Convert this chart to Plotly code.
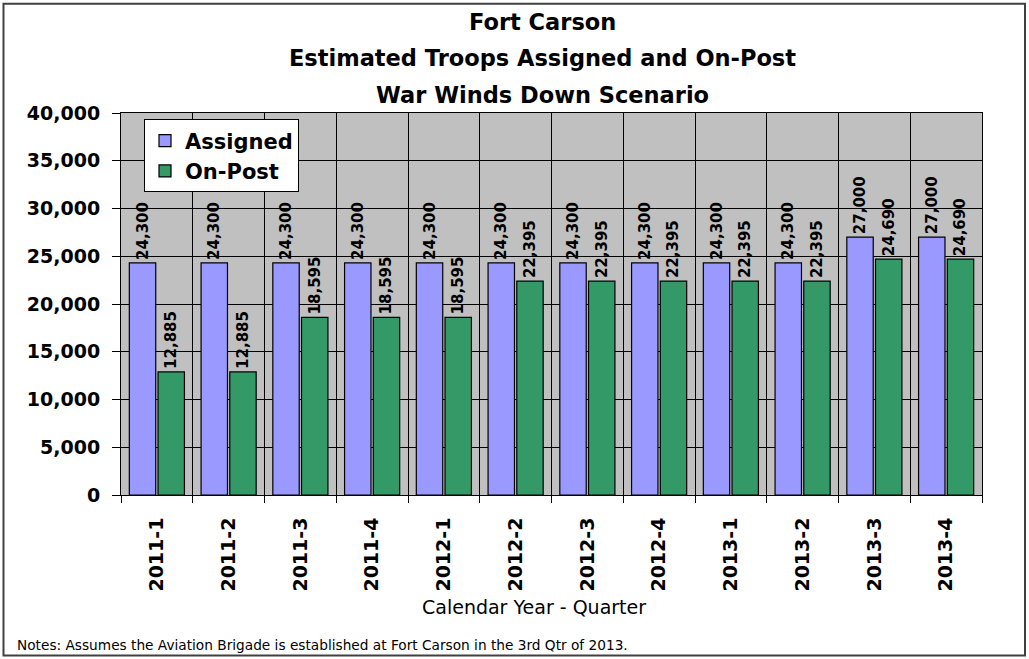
import plotly.graph_objects as go

quarters = ["2011-1", "2011-2", "2011-3", "2011-4", "2012-1", "2012-2",
            "2012-3", "2012-4", "2013-1", "2013-2", "2013-3", "2013-4"]
assigned = [24300, 24300, 24300, 24300, 24300, 24300,
            24300, 24300, 24300, 24300, 27000, 27000]
on_post = [12885, 12885, 18595, 18595, 18595, 22395,
           22395, 22395, 22395, 22395, 24690, 24690]

FONT = "DejaVu Sans, Verdana, sans-serif"
W, H = 1029, 659
L, R, T, B = 121, 982, 112.5, 495.5

def px_x(px):
    return (px - L) / (R - L)

def px_y(py):
    return (B - py) / (B - T)

def fmt(v):
    return f"{v:,}"

label_font = dict(family=FONT, size=15, color="black", weight="bold")

fig = go.Figure()
fig.add_trace(go.Bar(
    x=quarters, y=assigned, name="Assigned",
    marker=dict(color="#9999FF", line=dict(color="black", width=1.2)),
    text=[fmt(v) for v in assigned], textposition="outside", textangle=-90,
    textfont=label_font, constraintext="none", cliponaxis=False,
))
fig.add_trace(go.Bar(
    x=quarters, y=on_post, name="On-Post",
    marker=dict(color="#339966", line=dict(color="black", width=1.2)),
    text=[fmt(v) for v in on_post], textposition="outside", textangle=-90,
    textfont=label_font, constraintext="none", cliponaxis=False,
))

annotations = []
for i, line in enumerate(["Fort Carson",
                          "Estimated Troops Assigned and On-Post",
                          "War Winds Down Scenario"]):
    annotations.append(dict(
        text=line, xref="paper", yref="paper",
        x=px_x(542), y=px_y(21 + 36.5 * i),
        xanchor="center", yanchor="middle", showarrow=False,
        font=dict(family=FONT, size=22.5, color="black", weight="bold"),
    ))
annotations.append(dict(
    text="Calendar Year - Quarter", xref="paper", yref="paper",
    x=px_x(534), y=px_y(608), xanchor="center", yanchor="middle",
    showarrow=False, font=dict(family=FONT, size=19, color="black"),
))
annotations.append(dict(
    text="Notes: Assumes the Aviation Brigade is established at Fort Carson in the 3rd Qtr of 2013.",
    xref="paper", yref="paper", x=px_x(15), y=px_y(646),
    xanchor="left", yanchor="middle", showarrow=False,
    font=dict(family=FONT, size=13.7, color="black"),
))

fig.update_layout(
    width=W, height=H,
    margin=dict(l=L, r=W - R, t=T, b=H - B, pad=0),
    paper_bgcolor="white", plot_bgcolor="#C0C0C0",
    barmode="group", bargap=0.2, bargroupgap=0.08,
    font=dict(family=FONT, color="black"),
    showlegend=True,
    legend=dict(
        x=px_x(144), y=px_y(119), xanchor="left", yanchor="top",
        bgcolor="white", bordercolor="black", borderwidth=1,
        font=dict(family=FONT, size=21, color="black", weight="bold"),
        tracegroupgap=0, itemwidth=30,
    ),
    annotations=annotations,
    shapes=[dict(
        type="rect", xref="paper", yref="paper",
        x0=px_x(3.5), x1=px_x(1025), y0=px_y(656.5), y1=px_y(3),
        line=dict(color="#404040", width=2), fillcolor="rgba(0,0,0,0)",
        layer="above",
    )],
)

fig.update_xaxes(
    type="category", tickson="boundaries",
    showgrid=True, gridcolor="black", gridwidth=1,
    ticks="outside", ticklen=7, tickcolor="black",
    showline=True, linecolor="black", linewidth=1, mirror=True,
    tickangle=-90, ticklabelstandoff=14,
    tickfont=dict(family=FONT, size=19, color="black", weight="bold"),
)
fig.update_yaxes(
    range=[0, 40000], dtick=5000, tickformat=",",
    showgrid=True, gridcolor="black", gridwidth=1,
    ticks="outside", ticklen=8, tickcolor="black",
    showline=True, linecolor="black", linewidth=1, mirror=True,
    zeroline=False, ticklabelstandoff=8,
    tickfont=dict(family=FONT, size=19, color="black", weight="bold"),
)

fig.write_html("out.html")
